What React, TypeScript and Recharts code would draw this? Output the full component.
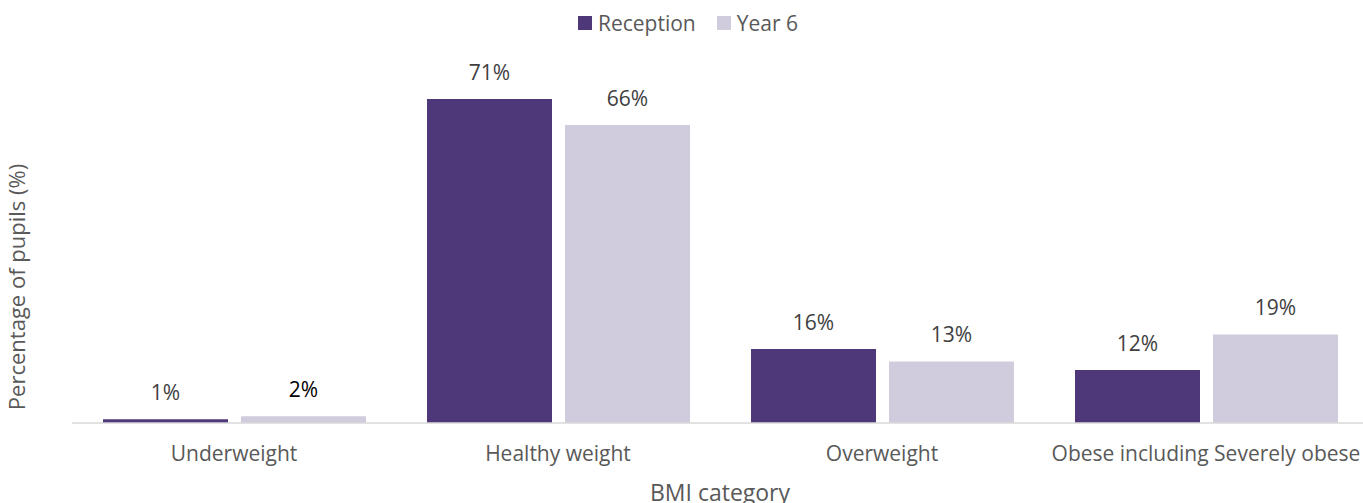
import React from 'react';
import { BarChart, Bar, XAxis, YAxis, LabelList } from 'recharts';

const categories = ['Underweight', 'Healthy weight', 'Overweight', 'Obese including Severely obese'];
const reception = [0.8, 71, 16.2, 11.6];
const year6 = [1.5, 65.3, 13.5, 19.4];
const receptionLabels = ['1%', '71%', '16%', '12%'];
const year6Labels = ['2%', '66%', '13%', '19%'];

const PURPLE = '#4F3879';
const LILAC = '#D0CCDD';
const FONT = '"Open Sans", sans-serif';

const data = categories.map((c, i) => ({
  category: c,
  reception: reception[i],
  year6: year6[i],
}));

function makeLabel(labels: string[], darkFirst = false) {
  return (props: any) => {
    const { x, y, width, index } = props;
    return (
      <text
        x={x + width / 2}
        y={y - 19}
        textAnchor="middle"
        fontFamily={FONT}
        fontSize={21}
        fill={darkFirst && index === 0 ? '#000000' : '#404040'}
      >
        {labels[index]}
      </text>
    );
  };
}

function LegendBox() {
  const items = [
    { name: 'Reception', color: PURPLE },
    { name: 'Year 6', color: LILAC },
  ];
  return (
    <div style={{ position: 'absolute', top: 8, left: 578, display: 'flex', alignItems: 'center', fontFamily: FONT, fontSize: 21, color: '#595959', lineHeight: '30px' }}>
      {items.map(it => (
        <div key={it.name} style={{ display: 'flex', alignItems: 'center', marginRight: 21 }}>
          <span style={{ width: 14, height: 14, background: it.color, display: 'inline-block', marginRight: 6 }} />
          <span>{it.name}</span>
        </div>
      ))}
    </div>
  );
}

export default function App() {
  return (
    <div style={{ position: 'absolute', left: 0, top: 0, width: 1363, height: 503, overflow: 'hidden', background: '#fff' }}>
      <BarChart
        width={1376}
        height={503}
        data={data}
        margin={{ top: 58, right: 8, bottom: 0, left: 0 }}
        barCategoryGap={31}
        barGap={13}
      >
        <XAxis
          dataKey="category"
          height={80}
          axisLine={{ stroke: '#D9D9D9', strokeWidth: 1.5 }}
          tickLine={false}
          tickSize={0}
          tickMargin={23}
          interval={0}
          tick={{ fontFamily: FONT, fontSize: 21, fill: '#595959' }}
          label={{
            content: () => (
              <text
                x={720}
                y={501}
                textAnchor="middle"
                fontFamily={FONT}
                fontSize={23}
                fill="#595959"
              >
                BMI category
              </text>
            ),
          }}
        />
        <YAxis
          width={72}
          domain={[0, 80]}
          axisLine={false}
          tickLine={false}
          tick={false}
          label={{
            content: () => (
              <text
                transform="translate(25 287) rotate(-90)"
                textAnchor="middle"
                fontFamily={FONT}
                fontSize={22}
                fill="#595959"
              >
                Percentage of pupils (%)
              </text>
            ),
          }}
        />
        <Bar dataKey="reception" name="Reception" fill={PURPLE} isAnimationActive={false}>
          <LabelList dataKey="reception" content={makeLabel(receptionLabels)} />
        </Bar>
        <Bar dataKey="year6" name="Year 6" fill={LILAC} isAnimationActive={false}>
          <LabelList dataKey="year6" content={makeLabel(year6Labels, true)} />
        </Bar>
      </BarChart>
      <LegendBox />
    </div>
  );
}
